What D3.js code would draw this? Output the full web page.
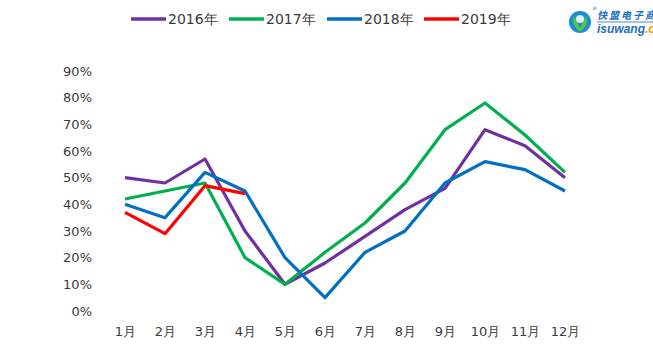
<!DOCTYPE html>
<html><head><meta charset="utf-8">
<script src="https://cdn.jsdelivr.net/npm/d3@7"></script>
<style>
body{margin:0;background:#fff;}
svg{display:block;font-family:"DejaVu Sans",Verdana,sans-serif;}
</style></head>
<body><svg id="c" width="653" height="356"></svg>
<script>
const months = ["1月","2月","3月","4月","5月","6月","7月","8月","9月","10月","11月","12月"];
const yTicks = [0,0.1,0.2,0.3,0.4,0.5,0.6,0.7,0.8,0.9];
const seriesNames = ["2016年","2017年","2018年","2019年"];
const seriesColors = ["#7030A0","#00B050","#0070C0","#FF0000"];
const v2016 = [0.50,0.48,0.57,0.30,0.10,0.18,0.28,0.38,0.46,0.68,0.62,0.50];
const v2017 = [0.42,0.45,0.48,0.20,0.10,0.22,0.33,0.48,0.68,0.78,0.66,0.52];
const v2018 = [0.40,0.35,0.52,0.45,0.20,0.05,0.22,0.30,0.48,0.56,0.53,0.45];
const v2019 = [0.37,0.29,0.47,0.44];
const seriesValues = [v2016,v2017,v2018,v2019];

const svg = d3.select("#c");
const x = d3.scalePoint().domain(months).range([125,565]);
const y = d3.scaleLinear().domain([0,0.9]).range([311,71]);

// y axis labels
const yAxis = d3.axisLeft(y).tickValues(yTicks).tickFormat(d3.format(".0%")).tickSize(0).tickPadding(0);
const gy = svg.append("g").attr("transform","translate(92,0)").call(yAxis);
gy.select(".domain").remove();
gy.selectAll("text").attr("font-size",13).attr("fill","#3a3a3a").attr("font-family","DejaVu Sans, sans-serif");

// x axis labels
const xAxis = d3.axisBottom(x).tickSize(0).tickPadding(0);
const gx = svg.append("g").attr("transform","translate(0,327)").call(xAxis);
gx.select(".domain").remove();
gx.selectAll("text").attr("font-size",13).attr("fill","#3a3a3a").attr("font-family","DejaVu Sans, sans-serif");

// lines
const line = d3.line().x((d,i)=>x(months[i])).y(d=>y(d));
seriesValues.forEach((vals,k)=>{
  svg.append("path").datum(vals).attr("d",line)
    .attr("fill","none").attr("stroke",seriesColors[k]).attr("stroke-width",3.2)
    .attr("stroke-linejoin","round");
});

// legend
const legX = [131,229,327,424];
const leg = svg.append("g");
seriesNames.forEach((n,k)=>{
  const g = leg.append("g").attr("transform",`translate(${legX[k]},19)`);
  g.append("line").attr("x1",0).attr("x2",35).attr("y1",0).attr("y2",0)
    .attr("stroke",seriesColors[k]).attr("stroke-width",3.5);
  g.append("text").attr("x",37).attr("y",5).attr("font-size",14).attr("fill","#3a3a3a").text(n);
});

// logo
const logo = svg.append("g").attr("transform","translate(580,22)");
logo.append("circle").attr("r",11).attr("fill","#1a8fd8");
logo.append("path").attr("d","M-6,-6 C-9,2 -3,8 0,9 C3,8 9,2 6,-6 C3,-1 2,3 0,6 C-2,3 -3,-1 -6,-6Z").attr("fill","#5cc63a");
logo.append("circle").attr("cx",0).attr("cy",-3).attr("r",4).attr("fill","#ffffff").attr("opacity",0.85);
svg.append("text").attr("x",592).attr("y",10).attr("font-size",5).attr("fill","#1a6fc0").text("®");
svg.append("text").attr("x",597).attr("y",19).attr("font-size",10).attr("font-weight","bold").attr("font-style","italic")
  .attr("fill","#1a6fc0").attr("font-family","Noto Sans CJK SC, sans-serif").attr("letter-spacing",2).text("快盟电子商");
svg.append("line").attr("x1",597).attr("x2",653).attr("y1",22).attr("y2",22).attr("stroke","#1a6fc0").attr("stroke-width",0.8);
const t2 = svg.append("text").attr("x",597).attr("y",33).attr("font-size",12).attr("font-weight","bold").attr("font-style","italic")
  .attr("font-family","Liberation Sans, Arial, sans-serif");
t2.append("tspan").attr("fill","#1a6fc0").text("isuwang");
t2.append("tspan").attr("fill","#f39800").text(".co");
</script></body></html>
